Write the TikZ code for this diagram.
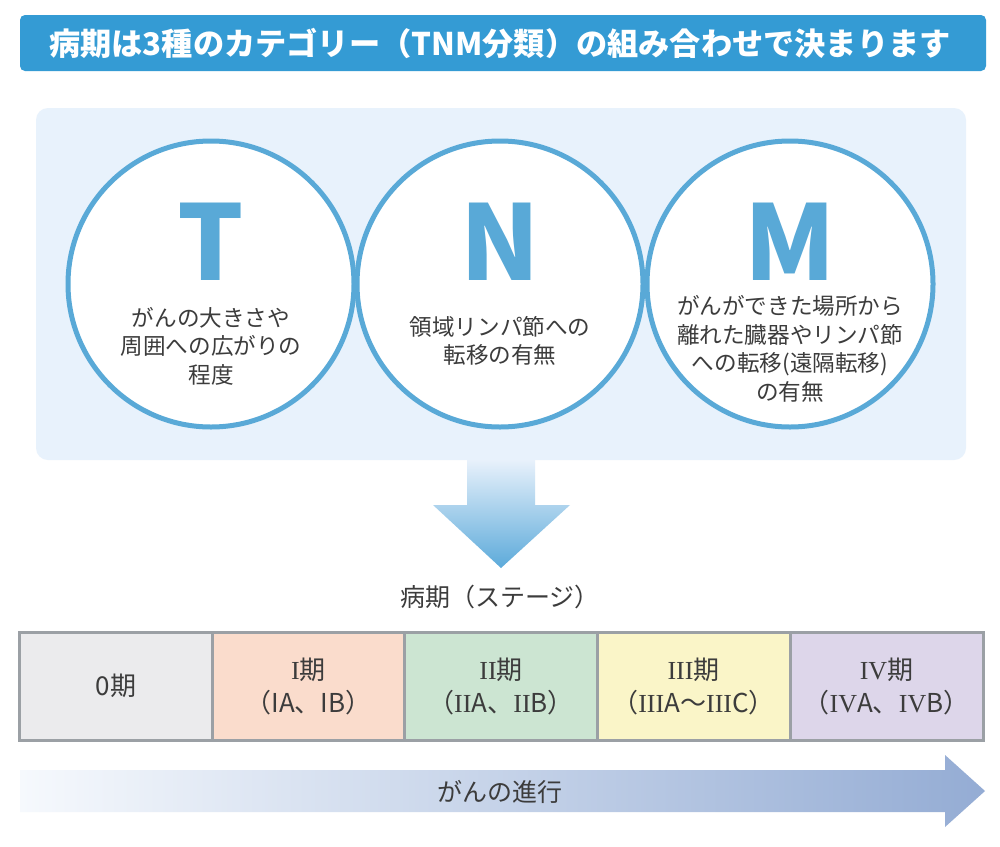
\documentclass[tikz,border=0pt]{standalone}
\usepackage{fontspec}
\setmainfont{Noto Sans CJK JP}
\newfontfamily\numfont{Liberation Serif}
\newcommand{\rnum}[1]{{\numfont #1}}
\usetikzlibrary{positioning}
\definecolor{titleblue}{RGB}{52,155,212}
\definecolor{panelblue}{RGB}{232,242,252}
\definecolor{ringblue}{RGB}{89,169,215}
\definecolor{textgray}{RGB}{60,60,60}
\definecolor{cellline}{RGB}{155,160,165}
\definecolor{stagezero}{RGB}{235,235,237}
\definecolor{stageone}{RGB}{250,220,204}
\definecolor{stagetwo}{RGB}{204,229,210}
\definecolor{stagethree}{RGB}{250,245,200}
\definecolor{stagefour}{RGB}{221,214,234}
\definecolor{arrowtop}{RGB}{232,241,251}
\definecolor{arrowbot}{RGB}{92,170,218}
\definecolor{progleft}{RGB}{246,249,253}
\definecolor{progright}{RGB}{148,172,212}

\tikzset{
  tnmring/.style={circle, draw=ringblue, line width=2.5pt, fill=white, minimum size=143pt, inner sep=0pt},
  tnmletter/.style={text=ringblue, font=\fontsize{52}{52}\selectfont\bfseries, anchor=base, inner sep=0pt},
  tnmdesc/.style={text=textgray, align=center, font=\fontsize{11.3}{14.3}\selectfont, inner sep=0pt},
  stagecell/.style={rectangle, draw=cellline, line width=1.5pt, minimum width=96.5pt, minimum height=54pt, inner sep=0pt,
    text=textgray, align=center, font=\fontsize{13}{16.5}\selectfont}
}

\begin{document}
\begin{tikzpicture}[x=0.5pt, y=-0.5pt]
    \useasboundingbox[fill=white] (0,0) rectangle (1000,846);

    % title
    \node[fill=titleblue, rounded corners=2.5pt, minimum width=483pt, minimum height=28pt, inner sep=0pt] (title) at (503,43) {};
    \node[text=white, font=\fontsize{15.6}{18}\selectfont\bfseries] (titletext) at (500,43) {病期は3種のカテゴリー（TNM分類）の組み合わせで決まります};

    % panel with the three circles
    \node[fill=panelblue, rounded corners=6pt, minimum width=465pt, minimum height=176pt, inner sep=0pt] (panel) at (501,284) {};

    \node[tnmring] (circT) at (211,284) {};
    \node[tnmring] (circN) at (500,284) {};
    \node[tnmring] (circM) at (790,284) {};

    \node[tnmletter] (letT) at (211,280) {T};
    \node[tnmletter] (letN) at (500,280) {N};
    \node[tnmletter] (letM) at (790,280) {M};

    \node[tnmdesc] (descT) at (211,346) {がんの大きさや\\周囲への広がりの\\程度};
    \node[tnmdesc] (descN) at (500,341) {領域リンパ節への\\転移の有無};
    \node[tnmdesc] (descM) at (790,349) {がんができた場所から\\離れた臓器やリンパ節\\への転移(遠隔転移)\\の有無};

    % arrow down to the stages
    \shade[top color=arrowtop, bottom color=arrowbot]
      (467,460) -- (535,460) -- (535,505) -- (570,505) -- (501,568) -- (433,505) -- (467,505) -- cycle;
    \node[text=textgray, font=\fontsize{12.5}{14}\selectfont] (stagelabel) at (500,597) {病期（ステージ）};

    % stages
    \node[stagecell, fill=stagezero] (stage0) at (116,686) {0期};
    \node[stagecell, fill=stageone] (stage1) at (308.5,686) {\rnum{I}期\\（IA、IB）};
    \node[stagecell, fill=stagetwo] (stage2) at (501,686) {\rnum{II}期\\（\rnum{II}A、\rnum{II}B）};
    \node[stagecell, fill=stagethree] (stage3) at (693.5,686) {\rnum{III}期\\（\rnum{III}A～\rnum{III}C）};
    \node[stagecell, fill=stagefour] (stage4) at (886.5,686) {\rnum{IV}期\\（\rnum{IV}A、\rnum{IV}B）};

    % progression arrow
    \shade[left color=progleft, right color=progright]
      (20,770) -- (945,770) -- (945,755) -- (985,791) -- (945,827) -- (945,812) -- (20,812) -- cycle;
    \node[text=textgray, font=\fontsize{12.5}{14}\selectfont] (progress) at (500,792) {がんの進行};
\end{tikzpicture}
\end{document}
